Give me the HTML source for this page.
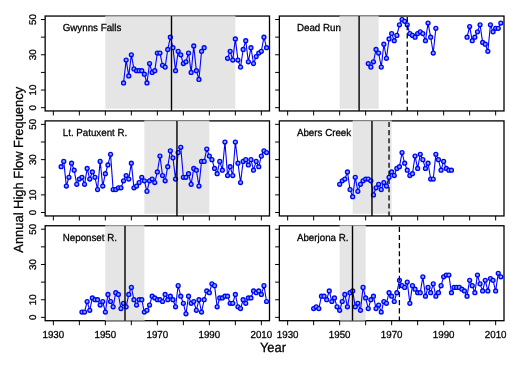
<!DOCTYPE html>
<html><head><meta charset="utf-8"><title>Annual High Flow Frequency</title>
<style>
html,body{margin:0;padding:0;background:#fff}
body{width:520px;height:366px;overflow:hidden}
svg text{font-family:"Liberation Sans",sans-serif;fill:#000;stroke:#000;stroke-width:0.28px;text-rendering:geometricPrecision}
</style></head><body>
<svg width="520" height="366" viewBox="0 0 520 366" style="display:block">
<rect width="520" height="366" fill="#fff"/>
<rect x="45.15" y="16.05" width="224.35" height="94.90" fill="none" stroke="#000" stroke-width="1.3"/>
<rect x="105.35" y="16.05" width="130.00" height="92.70" fill="#e5e5e5"/>
<line x1="105.35" y1="15.85" x2="235.35" y2="15.85" stroke="#929292" stroke-width="1.15"/>
<polyline points="123.55,82.99 126.15,60.07 128.75,75.94 131.35,54.78 133.95,68.88 136.55,70.65 139.15,70.65 141.75,70.65 144.35,74.17 146.95,82.99 149.55,63.59 152.15,72.41 154.75,70.65 157.35,53.02 159.95,53.02 162.55,65.36 165.15,67.12 167.75,49.49 170.35,37.15 172.95,47.73 175.55,70.65 178.15,51.25 180.75,54.78 183.35,63.59 185.95,61.83 188.55,53.02 191.15,72.41 193.75,45.97 196.35,70.65 198.95,79.46 201.55,51.25 204.15,47.73" fill="none" stroke="#0000ff" stroke-width="1.1" stroke-linejoin="round"/>
<polyline points="227.55,58.31 230.15,51.25 232.75,60.07 235.35,38.91 237.95,60.07 240.55,67.12 243.15,49.49 245.75,40.68 248.35,61.83 250.95,47.73 253.55,63.59 256.15,56.54 258.75,53.02 261.35,51.25 263.95,37.15 266.55,47.73" fill="none" stroke="#0000ff" stroke-width="1.1" stroke-linejoin="round"/>
<g fill="#7fb2f0" stroke="#0000ff" stroke-width="1.35">
<circle cx="123.55" cy="82.99" r="1.95"/>
<circle cx="126.15" cy="60.07" r="1.95"/>
<circle cx="128.75" cy="75.94" r="1.95"/>
<circle cx="131.35" cy="54.78" r="1.95"/>
<circle cx="133.95" cy="68.88" r="1.95"/>
<circle cx="136.55" cy="70.65" r="1.95"/>
<circle cx="139.15" cy="70.65" r="1.95"/>
<circle cx="141.75" cy="70.65" r="1.95"/>
<circle cx="144.35" cy="74.17" r="1.95"/>
<circle cx="146.95" cy="82.99" r="1.95"/>
<circle cx="149.55" cy="63.59" r="1.95"/>
<circle cx="152.15" cy="72.41" r="1.95"/>
<circle cx="154.75" cy="70.65" r="1.95"/>
<circle cx="157.35" cy="53.02" r="1.95"/>
<circle cx="159.95" cy="53.02" r="1.95"/>
<circle cx="162.55" cy="65.36" r="1.95"/>
<circle cx="165.15" cy="67.12" r="1.95"/>
<circle cx="167.75" cy="49.49" r="1.95"/>
<circle cx="170.35" cy="37.15" r="1.95"/>
<circle cx="172.95" cy="47.73" r="1.95"/>
<circle cx="175.55" cy="70.65" r="1.95"/>
<circle cx="178.15" cy="51.25" r="1.95"/>
<circle cx="180.75" cy="54.78" r="1.95"/>
<circle cx="183.35" cy="63.59" r="1.95"/>
<circle cx="185.95" cy="61.83" r="1.95"/>
<circle cx="188.55" cy="53.02" r="1.95"/>
<circle cx="191.15" cy="72.41" r="1.95"/>
<circle cx="193.75" cy="45.97" r="1.95"/>
<circle cx="196.35" cy="70.65" r="1.95"/>
<circle cx="198.95" cy="79.46" r="1.95"/>
<circle cx="201.55" cy="51.25" r="1.95"/>
<circle cx="204.15" cy="47.73" r="1.95"/>
<circle cx="227.55" cy="58.31" r="1.95"/>
<circle cx="230.15" cy="51.25" r="1.95"/>
<circle cx="232.75" cy="60.07" r="1.95"/>
<circle cx="235.35" cy="38.91" r="1.95"/>
<circle cx="237.95" cy="60.07" r="1.95"/>
<circle cx="240.55" cy="67.12" r="1.95"/>
<circle cx="243.15" cy="49.49" r="1.95"/>
<circle cx="245.75" cy="40.68" r="1.95"/>
<circle cx="248.35" cy="61.83" r="1.95"/>
<circle cx="250.95" cy="47.73" r="1.95"/>
<circle cx="253.55" cy="63.59" r="1.95"/>
<circle cx="256.15" cy="56.54" r="1.95"/>
<circle cx="258.75" cy="53.02" r="1.95"/>
<circle cx="261.35" cy="51.25" r="1.95"/>
<circle cx="263.95" cy="37.15" r="1.95"/>
<circle cx="266.55" cy="47.73" r="1.95"/>
</g>
<line x1="171.50" y1="16.05" x2="171.50" y2="110.95" stroke="#000" stroke-width="1.4"/>
<path d="M45.15 107.67h-4.2 M45.15 90.04h-4.2 M45.15 72.41h-4.2 M45.15 54.78h-4.2 M45.15 37.15h-4.2 M45.15 19.52h-4.2 M53.35 110.95v4.5 M79.35 110.95v4.5 M105.35 110.95v4.5 M131.35 110.95v4.5 M157.35 110.95v4.5 M183.35 110.95v4.5 M209.35 110.95v4.5 M235.35 110.95v4.5 M261.35 110.95v4.5" stroke="#000" stroke-width="1" fill="none"/>
<text transform="translate(62.75 31.35) scale(0.957 1)" font-size="10.2">Gwynns Falls</text>
<text transform="translate(36.30 107.67) rotate(-90)" text-anchor="middle" font-size="9.75">0</text>
<text transform="translate(36.30 90.04) rotate(-90)" text-anchor="middle" font-size="9.75">10</text>
<text transform="translate(36.30 54.78) rotate(-90)" text-anchor="middle" font-size="9.75">30</text>
<text transform="translate(36.30 19.52) rotate(-90)" text-anchor="middle" font-size="9.75">50</text>
<rect x="279.35" y="16.05" width="224.65" height="94.90" fill="none" stroke="#000" stroke-width="1.3"/>
<rect x="339.65" y="16.05" width="39.00" height="92.70" fill="#e5e5e5"/>
<line x1="339.65" y1="15.85" x2="378.65" y2="15.85" stroke="#929292" stroke-width="1.15"/>
<polyline points="368.25,63.59 370.85,67.12 373.45,61.83 376.05,49.49 378.65,53.02 381.25,67.12 383.85,44.20 386.45,58.31 389.05,38.91 391.65,33.62 394.25,40.68 396.85,35.39 399.45,24.81 402.05,19.52 404.65,21.28 407.25,24.81 409.85,33.62 412.45,35.39 415.05,37.15 417.65,33.62 420.25,31.86 422.85,33.62 425.45,40.68 428.05,23.05 430.65,37.15 433.25,53.02 435.85,28.34" fill="none" stroke="#0000ff" stroke-width="1.1" stroke-linejoin="round"/>
<polyline points="467.05,37.15 469.65,26.57 472.25,40.68 474.85,37.15 477.45,31.86 480.05,24.81 482.65,42.44 485.25,44.20 487.85,51.25 490.45,24.81 493.05,31.86 495.65,28.34 498.25,28.34 500.85,23.05" fill="none" stroke="#0000ff" stroke-width="1.1" stroke-linejoin="round"/>
<g fill="#7fb2f0" stroke="#0000ff" stroke-width="1.35">
<circle cx="368.25" cy="63.59" r="1.95"/>
<circle cx="370.85" cy="67.12" r="1.95"/>
<circle cx="373.45" cy="61.83" r="1.95"/>
<circle cx="376.05" cy="49.49" r="1.95"/>
<circle cx="378.65" cy="53.02" r="1.95"/>
<circle cx="381.25" cy="67.12" r="1.95"/>
<circle cx="383.85" cy="44.20" r="1.95"/>
<circle cx="386.45" cy="58.31" r="1.95"/>
<circle cx="389.05" cy="38.91" r="1.95"/>
<circle cx="391.65" cy="33.62" r="1.95"/>
<circle cx="394.25" cy="40.68" r="1.95"/>
<circle cx="396.85" cy="35.39" r="1.95"/>
<circle cx="399.45" cy="24.81" r="1.95"/>
<circle cx="402.05" cy="19.52" r="1.95"/>
<circle cx="404.65" cy="21.28" r="1.95"/>
<circle cx="407.25" cy="24.81" r="1.95"/>
<circle cx="409.85" cy="33.62" r="1.95"/>
<circle cx="412.45" cy="35.39" r="1.95"/>
<circle cx="415.05" cy="37.15" r="1.95"/>
<circle cx="417.65" cy="33.62" r="1.95"/>
<circle cx="420.25" cy="31.86" r="1.95"/>
<circle cx="422.85" cy="33.62" r="1.95"/>
<circle cx="425.45" cy="40.68" r="1.95"/>
<circle cx="428.05" cy="23.05" r="1.95"/>
<circle cx="430.65" cy="37.15" r="1.95"/>
<circle cx="433.25" cy="53.02" r="1.95"/>
<circle cx="435.85" cy="28.34" r="1.95"/>
<circle cx="467.05" cy="37.15" r="1.95"/>
<circle cx="469.65" cy="26.57" r="1.95"/>
<circle cx="472.25" cy="40.68" r="1.95"/>
<circle cx="474.85" cy="37.15" r="1.95"/>
<circle cx="477.45" cy="31.86" r="1.95"/>
<circle cx="480.05" cy="24.81" r="1.95"/>
<circle cx="482.65" cy="42.44" r="1.95"/>
<circle cx="485.25" cy="44.20" r="1.95"/>
<circle cx="487.85" cy="51.25" r="1.95"/>
<circle cx="490.45" cy="24.81" r="1.95"/>
<circle cx="493.05" cy="31.86" r="1.95"/>
<circle cx="495.65" cy="28.34" r="1.95"/>
<circle cx="498.25" cy="28.34" r="1.95"/>
<circle cx="500.85" cy="23.05" r="1.95"/>
</g>
<line x1="359.10" y1="16.05" x2="359.10" y2="110.95" stroke="#000" stroke-width="1.4"/>
<line x1="407.25" y1="16.05" x2="407.25" y2="110.95" stroke="#000" stroke-width="1.3" stroke-dasharray="5.15 3" stroke-dashoffset="7.15"/>
<path d="M279.35 107.67h-4.2 M279.35 90.04h-4.2 M279.35 72.41h-4.2 M279.35 54.78h-4.2 M279.35 37.15h-4.2 M279.35 19.52h-4.2 M287.65 110.95v4.5 M313.65 110.95v4.5 M339.65 110.95v4.5 M365.65 110.95v4.5 M391.65 110.95v4.5 M417.65 110.95v4.5 M443.65 110.95v4.5 M469.65 110.95v4.5 M495.65 110.95v4.5" stroke="#000" stroke-width="1" fill="none"/>
<text transform="translate(296.95 31.35) scale(0.957 1)" font-size="10.2">Dead Run</text>
<rect x="45.15" y="120.90" width="224.35" height="95.05" fill="none" stroke="#000" stroke-width="1.3"/>
<rect x="144.35" y="120.90" width="65.00" height="92.85" fill="#e5e5e5"/>
<line x1="144.35" y1="120.70" x2="209.35" y2="120.70" stroke="#929292" stroke-width="1.15"/>
<polyline points="61.15,166.68 63.75,161.39 66.35,186.07 68.95,177.26 71.55,163.16 74.15,170.21 76.75,184.31 79.35,179.02 81.95,177.26 84.55,184.31 87.15,168.44 89.75,179.02 92.35,171.97 94.95,177.26 97.55,189.60 100.15,161.39 102.75,186.07 105.35,173.73 107.95,164.92 110.55,154.34 113.15,189.60 115.75,189.60 118.35,187.84 120.95,187.84 123.55,180.79 126.15,175.50 128.75,179.02 131.35,163.16 133.95,187.84 136.55,186.07 139.15,182.55 141.75,177.26 144.35,180.79 146.95,191.36 149.55,180.79 152.15,179.02 154.75,182.55 157.35,171.97 159.95,156.10 162.55,175.50 165.15,180.79 167.75,166.68 170.35,150.81 172.95,157.87 175.55,179.02 178.15,152.58 180.75,147.29 183.35,177.26 185.95,177.26 188.55,173.73 191.15,184.31 193.75,168.44 196.35,170.21 198.95,186.07 201.55,161.39 204.15,161.39 206.75,149.05 209.35,156.10 211.95,159.63 214.55,168.44 217.15,173.73 219.75,161.39 222.35,170.21 224.95,142.00 227.55,175.50 230.15,166.68 232.75,175.50 235.35,142.00 237.95,163.16 240.55,182.55 243.15,161.39 245.75,159.63 248.35,164.92 250.95,159.63 253.55,170.21 256.15,161.39 258.75,166.68 261.35,156.10 263.95,150.81 266.55,152.58" fill="none" stroke="#0000ff" stroke-width="1.1" stroke-linejoin="round"/>
<g fill="#7fb2f0" stroke="#0000ff" stroke-width="1.35">
<circle cx="61.15" cy="166.68" r="1.95"/>
<circle cx="63.75" cy="161.39" r="1.95"/>
<circle cx="66.35" cy="186.07" r="1.95"/>
<circle cx="68.95" cy="177.26" r="1.95"/>
<circle cx="71.55" cy="163.16" r="1.95"/>
<circle cx="74.15" cy="170.21" r="1.95"/>
<circle cx="76.75" cy="184.31" r="1.95"/>
<circle cx="79.35" cy="179.02" r="1.95"/>
<circle cx="81.95" cy="177.26" r="1.95"/>
<circle cx="84.55" cy="184.31" r="1.95"/>
<circle cx="87.15" cy="168.44" r="1.95"/>
<circle cx="89.75" cy="179.02" r="1.95"/>
<circle cx="92.35" cy="171.97" r="1.95"/>
<circle cx="94.95" cy="177.26" r="1.95"/>
<circle cx="97.55" cy="189.60" r="1.95"/>
<circle cx="100.15" cy="161.39" r="1.95"/>
<circle cx="102.75" cy="186.07" r="1.95"/>
<circle cx="105.35" cy="173.73" r="1.95"/>
<circle cx="107.95" cy="164.92" r="1.95"/>
<circle cx="110.55" cy="154.34" r="1.95"/>
<circle cx="113.15" cy="189.60" r="1.95"/>
<circle cx="115.75" cy="189.60" r="1.95"/>
<circle cx="118.35" cy="187.84" r="1.95"/>
<circle cx="120.95" cy="187.84" r="1.95"/>
<circle cx="123.55" cy="180.79" r="1.95"/>
<circle cx="126.15" cy="175.50" r="1.95"/>
<circle cx="128.75" cy="179.02" r="1.95"/>
<circle cx="131.35" cy="163.16" r="1.95"/>
<circle cx="133.95" cy="187.84" r="1.95"/>
<circle cx="136.55" cy="186.07" r="1.95"/>
<circle cx="139.15" cy="182.55" r="1.95"/>
<circle cx="141.75" cy="177.26" r="1.95"/>
<circle cx="144.35" cy="180.79" r="1.95"/>
<circle cx="146.95" cy="191.36" r="1.95"/>
<circle cx="149.55" cy="180.79" r="1.95"/>
<circle cx="152.15" cy="179.02" r="1.95"/>
<circle cx="154.75" cy="182.55" r="1.95"/>
<circle cx="157.35" cy="171.97" r="1.95"/>
<circle cx="159.95" cy="156.10" r="1.95"/>
<circle cx="162.55" cy="175.50" r="1.95"/>
<circle cx="165.15" cy="180.79" r="1.95"/>
<circle cx="167.75" cy="166.68" r="1.95"/>
<circle cx="170.35" cy="150.81" r="1.95"/>
<circle cx="172.95" cy="157.87" r="1.95"/>
<circle cx="175.55" cy="179.02" r="1.95"/>
<circle cx="178.15" cy="152.58" r="1.95"/>
<circle cx="180.75" cy="147.29" r="1.95"/>
<circle cx="183.35" cy="177.26" r="1.95"/>
<circle cx="185.95" cy="177.26" r="1.95"/>
<circle cx="188.55" cy="173.73" r="1.95"/>
<circle cx="191.15" cy="184.31" r="1.95"/>
<circle cx="193.75" cy="168.44" r="1.95"/>
<circle cx="196.35" cy="170.21" r="1.95"/>
<circle cx="198.95" cy="186.07" r="1.95"/>
<circle cx="201.55" cy="161.39" r="1.95"/>
<circle cx="204.15" cy="161.39" r="1.95"/>
<circle cx="206.75" cy="149.05" r="1.95"/>
<circle cx="209.35" cy="156.10" r="1.95"/>
<circle cx="211.95" cy="159.63" r="1.95"/>
<circle cx="214.55" cy="168.44" r="1.95"/>
<circle cx="217.15" cy="173.73" r="1.95"/>
<circle cx="219.75" cy="161.39" r="1.95"/>
<circle cx="222.35" cy="170.21" r="1.95"/>
<circle cx="224.95" cy="142.00" r="1.95"/>
<circle cx="227.55" cy="175.50" r="1.95"/>
<circle cx="230.15" cy="166.68" r="1.95"/>
<circle cx="232.75" cy="175.50" r="1.95"/>
<circle cx="235.35" cy="142.00" r="1.95"/>
<circle cx="237.95" cy="163.16" r="1.95"/>
<circle cx="240.55" cy="182.55" r="1.95"/>
<circle cx="243.15" cy="161.39" r="1.95"/>
<circle cx="245.75" cy="159.63" r="1.95"/>
<circle cx="248.35" cy="164.92" r="1.95"/>
<circle cx="250.95" cy="159.63" r="1.95"/>
<circle cx="253.55" cy="170.21" r="1.95"/>
<circle cx="256.15" cy="161.39" r="1.95"/>
<circle cx="258.75" cy="166.68" r="1.95"/>
<circle cx="261.35" cy="156.10" r="1.95"/>
<circle cx="263.95" cy="150.81" r="1.95"/>
<circle cx="266.55" cy="152.58" r="1.95"/>
</g>
<line x1="176.96" y1="120.90" x2="176.96" y2="215.95" stroke="#000" stroke-width="1.4"/>
<path d="M45.15 212.52h-4.2 M45.15 194.89h-4.2 M45.15 177.26h-4.2 M45.15 159.63h-4.2 M45.15 142.00h-4.2 M45.15 124.37h-4.2 M53.35 215.95v4.5 M79.35 215.95v4.5 M105.35 215.95v4.5 M131.35 215.95v4.5 M157.35 215.95v4.5 M183.35 215.95v4.5 M209.35 215.95v4.5 M235.35 215.95v4.5 M261.35 215.95v4.5" stroke="#000" stroke-width="1" fill="none"/>
<text transform="translate(62.75 136.20) scale(0.957 1)" font-size="10.2">Lt. Patuxent R.</text>
<text transform="translate(36.30 212.52) rotate(-90)" text-anchor="middle" font-size="9.75">0</text>
<text transform="translate(36.30 194.89) rotate(-90)" text-anchor="middle" font-size="9.75">10</text>
<text transform="translate(36.30 159.63) rotate(-90)" text-anchor="middle" font-size="9.75">30</text>
<text transform="translate(36.30 124.37) rotate(-90)" text-anchor="middle" font-size="9.75">50</text>
<rect x="279.35" y="120.90" width="224.65" height="95.05" fill="none" stroke="#000" stroke-width="1.3"/>
<rect x="352.65" y="120.90" width="39.00" height="92.85" fill="#e5e5e5"/>
<line x1="352.65" y1="120.70" x2="391.65" y2="120.70" stroke="#929292" stroke-width="1.15"/>
<polyline points="339.65,184.31 342.25,180.79 344.85,179.02 347.45,171.97 350.05,189.60 352.65,196.65 355.25,177.26 357.85,191.36 360.45,184.31 363.05,180.79 365.65,179.02 368.25,179.02 370.85,180.79 373.45,194.89 376.05,187.84 378.65,184.31 381.25,189.60 383.85,182.55 386.45,186.07 389.05,177.26 391.65,171.97 394.25,175.50 396.85,168.44 399.45,166.68 402.05,152.58 404.65,163.16 407.25,170.21 409.85,175.50 412.45,173.73 415.05,156.10 417.65,168.44 420.25,154.34 422.85,159.63 425.45,168.44 428.05,163.16 430.65,179.02 433.25,179.02 435.85,154.34 438.45,159.63 441.05,170.21 443.65,161.39 446.25,168.44 448.85,170.21 451.45,170.21" fill="none" stroke="#0000ff" stroke-width="1.1" stroke-linejoin="round"/>
<g fill="#7fb2f0" stroke="#0000ff" stroke-width="1.35">
<circle cx="339.65" cy="184.31" r="1.95"/>
<circle cx="342.25" cy="180.79" r="1.95"/>
<circle cx="344.85" cy="179.02" r="1.95"/>
<circle cx="347.45" cy="171.97" r="1.95"/>
<circle cx="350.05" cy="189.60" r="1.95"/>
<circle cx="352.65" cy="196.65" r="1.95"/>
<circle cx="355.25" cy="177.26" r="1.95"/>
<circle cx="357.85" cy="191.36" r="1.95"/>
<circle cx="360.45" cy="184.31" r="1.95"/>
<circle cx="363.05" cy="180.79" r="1.95"/>
<circle cx="365.65" cy="179.02" r="1.95"/>
<circle cx="368.25" cy="179.02" r="1.95"/>
<circle cx="370.85" cy="180.79" r="1.95"/>
<circle cx="373.45" cy="194.89" r="1.95"/>
<circle cx="376.05" cy="187.84" r="1.95"/>
<circle cx="378.65" cy="184.31" r="1.95"/>
<circle cx="381.25" cy="189.60" r="1.95"/>
<circle cx="383.85" cy="182.55" r="1.95"/>
<circle cx="386.45" cy="186.07" r="1.95"/>
<circle cx="389.05" cy="177.26" r="1.95"/>
<circle cx="391.65" cy="171.97" r="1.95"/>
<circle cx="394.25" cy="175.50" r="1.95"/>
<circle cx="396.85" cy="168.44" r="1.95"/>
<circle cx="399.45" cy="166.68" r="1.95"/>
<circle cx="402.05" cy="152.58" r="1.95"/>
<circle cx="404.65" cy="163.16" r="1.95"/>
<circle cx="407.25" cy="170.21" r="1.95"/>
<circle cx="409.85" cy="175.50" r="1.95"/>
<circle cx="412.45" cy="173.73" r="1.95"/>
<circle cx="415.05" cy="156.10" r="1.95"/>
<circle cx="417.65" cy="168.44" r="1.95"/>
<circle cx="420.25" cy="154.34" r="1.95"/>
<circle cx="422.85" cy="159.63" r="1.95"/>
<circle cx="425.45" cy="168.44" r="1.95"/>
<circle cx="428.05" cy="163.16" r="1.95"/>
<circle cx="430.65" cy="179.02" r="1.95"/>
<circle cx="433.25" cy="179.02" r="1.95"/>
<circle cx="435.85" cy="154.34" r="1.95"/>
<circle cx="438.45" cy="159.63" r="1.95"/>
<circle cx="441.05" cy="170.21" r="1.95"/>
<circle cx="443.65" cy="161.39" r="1.95"/>
<circle cx="446.25" cy="168.44" r="1.95"/>
<circle cx="448.85" cy="170.21" r="1.95"/>
<circle cx="451.45" cy="170.21" r="1.95"/>
</g>
<line x1="371.97" y1="120.90" x2="371.97" y2="215.95" stroke="#000" stroke-width="1.4"/>
<line x1="389.03" y1="120.90" x2="389.03" y2="215.95" stroke="#000" stroke-width="1.3" stroke-dasharray="5.15 3" stroke-dashoffset="7.15"/>
<path d="M279.35 212.52h-4.2 M279.35 194.89h-4.2 M279.35 177.26h-4.2 M279.35 159.63h-4.2 M279.35 142.00h-4.2 M279.35 124.37h-4.2 M287.65 215.95v4.5 M313.65 215.95v4.5 M339.65 215.95v4.5 M365.65 215.95v4.5 M391.65 215.95v4.5 M417.65 215.95v4.5 M443.65 215.95v4.5 M469.65 215.95v4.5 M495.65 215.95v4.5" stroke="#000" stroke-width="1" fill="none"/>
<text transform="translate(296.95 136.20) scale(0.957 1)" font-size="10.2">Abers Creek</text>
<rect x="45.15" y="225.75" width="224.35" height="94.95" fill="none" stroke="#000" stroke-width="1.3"/>
<rect x="105.35" y="225.75" width="39.00" height="94.95" fill="#e5e5e5"/>
<line x1="105.35" y1="225.55" x2="144.35" y2="225.55" stroke="#929292" stroke-width="1.15"/>
<line x1="105.35" y1="320.70" x2="144.35" y2="320.70" stroke="#808080" stroke-width="1.3"/>
<polyline points="81.95,312.08 84.55,312.08 87.15,301.50 89.75,310.32 92.35,297.98 94.95,299.74 97.55,299.74 100.15,305.03 102.75,301.50 105.35,312.08 107.95,294.45 110.55,301.50 113.15,306.79 115.75,292.69 118.35,294.45 120.95,308.56 123.55,303.27 126.15,306.79 128.75,294.45 131.35,287.40 133.95,299.74 136.55,305.03 139.15,299.74 141.75,299.74 144.35,312.08 146.95,310.32 149.55,305.03 152.15,296.21 154.75,297.98 157.35,299.74 159.95,299.74 162.55,301.50 165.15,294.45 167.75,299.74 170.35,296.21 172.95,299.74 175.55,306.79 178.15,285.64 180.75,296.21 183.35,303.27 185.95,313.84 188.55,296.21 191.15,303.27 193.75,301.50 196.35,310.32 198.95,299.74 201.55,312.08 204.15,299.74 206.75,290.93 209.35,292.69 211.95,283.87 214.55,285.64 217.15,306.79 219.75,297.98 222.35,297.98 224.95,296.21 227.55,296.21 230.15,303.27 232.75,303.27 235.35,294.45 237.95,306.79 240.55,308.56 243.15,299.74 245.75,303.27 248.35,297.98 250.95,297.98 253.55,290.93 256.15,292.69 258.75,290.93 261.35,294.45 263.95,285.64 266.55,301.50" fill="none" stroke="#0000ff" stroke-width="1.1" stroke-linejoin="round"/>
<g fill="#7fb2f0" stroke="#0000ff" stroke-width="1.35">
<circle cx="81.95" cy="312.08" r="1.95"/>
<circle cx="84.55" cy="312.08" r="1.95"/>
<circle cx="87.15" cy="301.50" r="1.95"/>
<circle cx="89.75" cy="310.32" r="1.95"/>
<circle cx="92.35" cy="297.98" r="1.95"/>
<circle cx="94.95" cy="299.74" r="1.95"/>
<circle cx="97.55" cy="299.74" r="1.95"/>
<circle cx="100.15" cy="305.03" r="1.95"/>
<circle cx="102.75" cy="301.50" r="1.95"/>
<circle cx="105.35" cy="312.08" r="1.95"/>
<circle cx="107.95" cy="294.45" r="1.95"/>
<circle cx="110.55" cy="301.50" r="1.95"/>
<circle cx="113.15" cy="306.79" r="1.95"/>
<circle cx="115.75" cy="292.69" r="1.95"/>
<circle cx="118.35" cy="294.45" r="1.95"/>
<circle cx="120.95" cy="308.56" r="1.95"/>
<circle cx="123.55" cy="303.27" r="1.95"/>
<circle cx="126.15" cy="306.79" r="1.95"/>
<circle cx="128.75" cy="294.45" r="1.95"/>
<circle cx="131.35" cy="287.40" r="1.95"/>
<circle cx="133.95" cy="299.74" r="1.95"/>
<circle cx="136.55" cy="305.03" r="1.95"/>
<circle cx="139.15" cy="299.74" r="1.95"/>
<circle cx="141.75" cy="299.74" r="1.95"/>
<circle cx="144.35" cy="312.08" r="1.95"/>
<circle cx="146.95" cy="310.32" r="1.95"/>
<circle cx="149.55" cy="305.03" r="1.95"/>
<circle cx="152.15" cy="296.21" r="1.95"/>
<circle cx="154.75" cy="297.98" r="1.95"/>
<circle cx="157.35" cy="299.74" r="1.95"/>
<circle cx="159.95" cy="299.74" r="1.95"/>
<circle cx="162.55" cy="301.50" r="1.95"/>
<circle cx="165.15" cy="294.45" r="1.95"/>
<circle cx="167.75" cy="299.74" r="1.95"/>
<circle cx="170.35" cy="296.21" r="1.95"/>
<circle cx="172.95" cy="299.74" r="1.95"/>
<circle cx="175.55" cy="306.79" r="1.95"/>
<circle cx="178.15" cy="285.64" r="1.95"/>
<circle cx="180.75" cy="296.21" r="1.95"/>
<circle cx="183.35" cy="303.27" r="1.95"/>
<circle cx="185.95" cy="313.84" r="1.95"/>
<circle cx="188.55" cy="296.21" r="1.95"/>
<circle cx="191.15" cy="303.27" r="1.95"/>
<circle cx="193.75" cy="301.50" r="1.95"/>
<circle cx="196.35" cy="310.32" r="1.95"/>
<circle cx="198.95" cy="299.74" r="1.95"/>
<circle cx="201.55" cy="312.08" r="1.95"/>
<circle cx="204.15" cy="299.74" r="1.95"/>
<circle cx="206.75" cy="290.93" r="1.95"/>
<circle cx="209.35" cy="292.69" r="1.95"/>
<circle cx="211.95" cy="283.87" r="1.95"/>
<circle cx="214.55" cy="285.64" r="1.95"/>
<circle cx="217.15" cy="306.79" r="1.95"/>
<circle cx="219.75" cy="297.98" r="1.95"/>
<circle cx="222.35" cy="297.98" r="1.95"/>
<circle cx="224.95" cy="296.21" r="1.95"/>
<circle cx="227.55" cy="296.21" r="1.95"/>
<circle cx="230.15" cy="303.27" r="1.95"/>
<circle cx="232.75" cy="303.27" r="1.95"/>
<circle cx="235.35" cy="294.45" r="1.95"/>
<circle cx="237.95" cy="306.79" r="1.95"/>
<circle cx="240.55" cy="308.56" r="1.95"/>
<circle cx="243.15" cy="299.74" r="1.95"/>
<circle cx="245.75" cy="303.27" r="1.95"/>
<circle cx="248.35" cy="297.98" r="1.95"/>
<circle cx="250.95" cy="297.98" r="1.95"/>
<circle cx="253.55" cy="290.93" r="1.95"/>
<circle cx="256.15" cy="292.69" r="1.95"/>
<circle cx="258.75" cy="290.93" r="1.95"/>
<circle cx="261.35" cy="294.45" r="1.95"/>
<circle cx="263.95" cy="285.64" r="1.95"/>
<circle cx="266.55" cy="301.50" r="1.95"/>
</g>
<line x1="125.00" y1="225.75" x2="125.00" y2="320.70" stroke="#000" stroke-width="1.4"/>
<path d="M45.15 317.37h-4.2 M45.15 299.74h-4.2 M45.15 282.11h-4.2 M45.15 264.48h-4.2 M45.15 246.85h-4.2 M45.15 229.22h-4.2 M53.35 320.70v4.5 M79.35 320.70v4.5 M105.35 320.70v4.5 M131.35 320.70v4.5 M157.35 320.70v4.5 M183.35 320.70v4.5 M209.35 320.70v4.5 M235.35 320.70v4.5 M261.35 320.70v4.5" stroke="#000" stroke-width="1" fill="none"/>
<text transform="translate(62.75 241.05) scale(0.957 1)" font-size="10.2">Neponset R.</text>
<text transform="translate(36.30 317.37) rotate(-90)" text-anchor="middle" font-size="9.75">0</text>
<text transform="translate(36.30 299.74) rotate(-90)" text-anchor="middle" font-size="9.75">10</text>
<text transform="translate(36.30 264.48) rotate(-90)" text-anchor="middle" font-size="9.75">30</text>
<text transform="translate(36.30 229.22) rotate(-90)" text-anchor="middle" font-size="9.75">50</text>
<text transform="translate(53.35 337.7) scale(0.957 1)" text-anchor="middle" font-size="10.2">1930</text>
<text transform="translate(105.35 337.7) scale(0.957 1)" text-anchor="middle" font-size="10.2">1950</text>
<text transform="translate(157.35 337.7) scale(0.957 1)" text-anchor="middle" font-size="10.2">1970</text>
<text transform="translate(209.35 337.7) scale(0.957 1)" text-anchor="middle" font-size="10.2">1990</text>
<text transform="translate(261.35 337.7) scale(0.957 1)" text-anchor="middle" font-size="10.2">2010</text>
<rect x="279.35" y="225.75" width="224.65" height="94.95" fill="none" stroke="#000" stroke-width="1.3"/>
<rect x="339.65" y="225.75" width="26.00" height="94.95" fill="#e5e5e5"/>
<line x1="339.65" y1="225.55" x2="365.65" y2="225.55" stroke="#929292" stroke-width="1.15"/>
<line x1="339.65" y1="320.70" x2="365.65" y2="320.70" stroke="#808080" stroke-width="1.3"/>
<polyline points="313.65,308.56 316.25,306.79 318.85,308.56 321.45,296.21 324.05,296.21 326.65,299.74 329.25,290.93 331.85,301.50 334.45,297.98 337.05,306.79 339.65,310.32 342.25,301.50 344.85,294.45 347.45,306.79 350.05,292.69 352.65,290.93 355.25,306.79 357.85,303.27 360.45,310.32 363.05,287.40 365.65,297.98 368.25,308.56 370.85,299.74 373.45,296.21 376.05,308.56 378.65,305.03 381.25,312.08 383.85,301.50 386.45,303.27 389.05,292.69 391.65,296.21 394.25,301.50 396.85,292.69 399.45,280.35 402.05,285.64 404.65,287.40 407.25,282.11 409.85,303.27 412.45,285.64 415.05,289.16 417.65,292.69 420.25,292.69 422.85,276.82 425.45,296.21 428.05,287.40 430.65,292.69 433.25,283.87 435.85,296.21 438.45,292.69 441.05,285.64 443.65,276.82 446.25,275.06 448.85,275.06 451.45,292.69 454.05,287.40 456.65,287.40 459.25,287.40 461.85,289.16 464.45,290.93 467.05,296.21 469.65,280.35 472.25,285.64 474.85,292.69 477.45,275.06 480.05,283.87 482.65,290.93 485.25,280.35 487.85,290.93 490.45,278.58 493.05,280.35 495.65,290.93 498.25,273.30 500.85,276.82" fill="none" stroke="#0000ff" stroke-width="1.1" stroke-linejoin="round"/>
<g fill="#7fb2f0" stroke="#0000ff" stroke-width="1.35">
<circle cx="313.65" cy="308.56" r="1.95"/>
<circle cx="316.25" cy="306.79" r="1.95"/>
<circle cx="318.85" cy="308.56" r="1.95"/>
<circle cx="321.45" cy="296.21" r="1.95"/>
<circle cx="324.05" cy="296.21" r="1.95"/>
<circle cx="326.65" cy="299.74" r="1.95"/>
<circle cx="329.25" cy="290.93" r="1.95"/>
<circle cx="331.85" cy="301.50" r="1.95"/>
<circle cx="334.45" cy="297.98" r="1.95"/>
<circle cx="337.05" cy="306.79" r="1.95"/>
<circle cx="339.65" cy="310.32" r="1.95"/>
<circle cx="342.25" cy="301.50" r="1.95"/>
<circle cx="344.85" cy="294.45" r="1.95"/>
<circle cx="347.45" cy="306.79" r="1.95"/>
<circle cx="350.05" cy="292.69" r="1.95"/>
<circle cx="352.65" cy="290.93" r="1.95"/>
<circle cx="355.25" cy="306.79" r="1.95"/>
<circle cx="357.85" cy="303.27" r="1.95"/>
<circle cx="360.45" cy="310.32" r="1.95"/>
<circle cx="363.05" cy="287.40" r="1.95"/>
<circle cx="365.65" cy="297.98" r="1.95"/>
<circle cx="368.25" cy="308.56" r="1.95"/>
<circle cx="370.85" cy="299.74" r="1.95"/>
<circle cx="373.45" cy="296.21" r="1.95"/>
<circle cx="376.05" cy="308.56" r="1.95"/>
<circle cx="378.65" cy="305.03" r="1.95"/>
<circle cx="381.25" cy="312.08" r="1.95"/>
<circle cx="383.85" cy="301.50" r="1.95"/>
<circle cx="386.45" cy="303.27" r="1.95"/>
<circle cx="389.05" cy="292.69" r="1.95"/>
<circle cx="391.65" cy="296.21" r="1.95"/>
<circle cx="394.25" cy="301.50" r="1.95"/>
<circle cx="396.85" cy="292.69" r="1.95"/>
<circle cx="399.45" cy="280.35" r="1.95"/>
<circle cx="402.05" cy="285.64" r="1.95"/>
<circle cx="404.65" cy="287.40" r="1.95"/>
<circle cx="407.25" cy="282.11" r="1.95"/>
<circle cx="409.85" cy="303.27" r="1.95"/>
<circle cx="412.45" cy="285.64" r="1.95"/>
<circle cx="415.05" cy="289.16" r="1.95"/>
<circle cx="417.65" cy="292.69" r="1.95"/>
<circle cx="420.25" cy="292.69" r="1.95"/>
<circle cx="422.85" cy="276.82" r="1.95"/>
<circle cx="425.45" cy="296.21" r="1.95"/>
<circle cx="428.05" cy="287.40" r="1.95"/>
<circle cx="430.65" cy="292.69" r="1.95"/>
<circle cx="433.25" cy="283.87" r="1.95"/>
<circle cx="435.85" cy="296.21" r="1.95"/>
<circle cx="438.45" cy="292.69" r="1.95"/>
<circle cx="441.05" cy="285.64" r="1.95"/>
<circle cx="443.65" cy="276.82" r="1.95"/>
<circle cx="446.25" cy="275.06" r="1.95"/>
<circle cx="448.85" cy="275.06" r="1.95"/>
<circle cx="451.45" cy="292.69" r="1.95"/>
<circle cx="454.05" cy="287.40" r="1.95"/>
<circle cx="456.65" cy="287.40" r="1.95"/>
<circle cx="459.25" cy="287.40" r="1.95"/>
<circle cx="461.85" cy="289.16" r="1.95"/>
<circle cx="464.45" cy="290.93" r="1.95"/>
<circle cx="467.05" cy="296.21" r="1.95"/>
<circle cx="469.65" cy="280.35" r="1.95"/>
<circle cx="472.25" cy="285.64" r="1.95"/>
<circle cx="474.85" cy="292.69" r="1.95"/>
<circle cx="477.45" cy="275.06" r="1.95"/>
<circle cx="480.05" cy="283.87" r="1.95"/>
<circle cx="482.65" cy="290.93" r="1.95"/>
<circle cx="485.25" cy="280.35" r="1.95"/>
<circle cx="487.85" cy="290.93" r="1.95"/>
<circle cx="490.45" cy="278.58" r="1.95"/>
<circle cx="493.05" cy="280.35" r="1.95"/>
<circle cx="495.65" cy="290.93" r="1.95"/>
<circle cx="498.25" cy="273.30" r="1.95"/>
<circle cx="500.85" cy="276.82" r="1.95"/>
</g>
<line x1="352.50" y1="225.75" x2="352.50" y2="320.70" stroke="#000" stroke-width="1.4"/>
<line x1="399.40" y1="225.75" x2="399.40" y2="320.70" stroke="#000" stroke-width="1.3" stroke-dasharray="5.15 3" stroke-dashoffset="7.15"/>
<path d="M279.35 317.37h-4.2 M279.35 299.74h-4.2 M279.35 282.11h-4.2 M279.35 264.48h-4.2 M279.35 246.85h-4.2 M279.35 229.22h-4.2 M287.65 320.70v4.5 M313.65 320.70v4.5 M339.65 320.70v4.5 M365.65 320.70v4.5 M391.65 320.70v4.5 M417.65 320.70v4.5 M443.65 320.70v4.5 M469.65 320.70v4.5 M495.65 320.70v4.5" stroke="#000" stroke-width="1" fill="none"/>
<text transform="translate(296.95 241.05) scale(0.957 1)" font-size="10.2">Aberjona R.</text>
<text transform="translate(287.65 337.7) scale(0.957 1)" text-anchor="middle" font-size="10.2">1930</text>
<text transform="translate(339.65 337.7) scale(0.957 1)" text-anchor="middle" font-size="10.2">1950</text>
<text transform="translate(391.65 337.7) scale(0.957 1)" text-anchor="middle" font-size="10.2">1970</text>
<text transform="translate(443.65 337.7) scale(0.957 1)" text-anchor="middle" font-size="10.2">1990</text>
<text transform="translate(495.65 337.7) scale(0.957 1)" text-anchor="middle" font-size="10.2">2010</text>
<text transform="translate(273 351.5) scale(0.958 1)" text-anchor="middle" font-size="13.5">Year</text>
<text transform="translate(23.4 169.8) rotate(-90) scale(0.979 1)" text-anchor="middle" font-size="13.2">Annual High Flow Frequency</text>
</svg>
</body></html>
